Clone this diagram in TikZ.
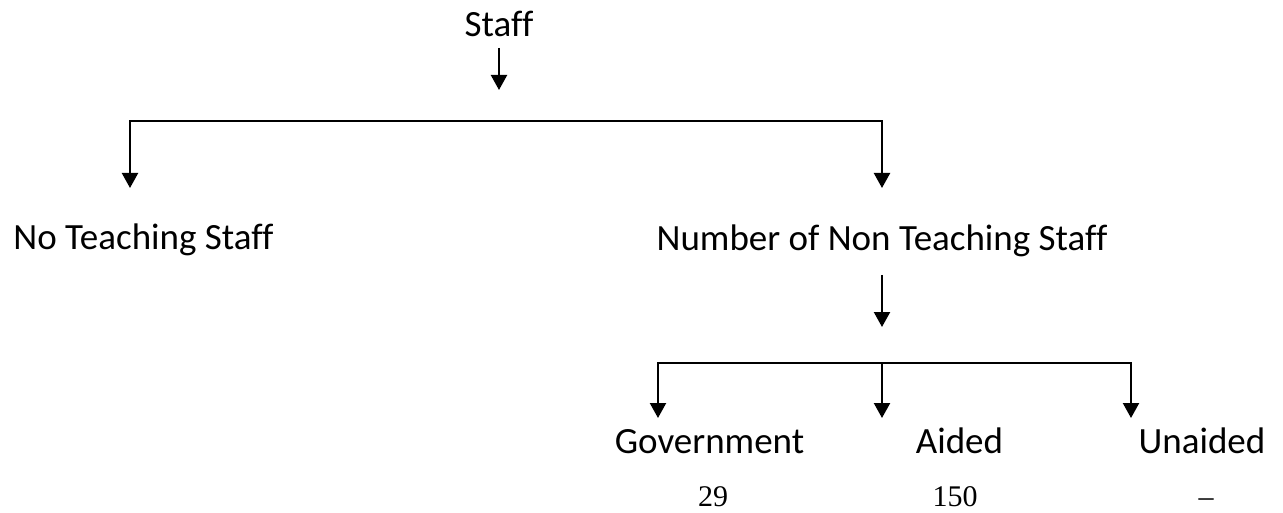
\documentclass[tikz,border=0pt]{standalone}
\usepackage{fontspec}
\setmainfont{Carlito}[Ligatures=CommonOff]
\newfontfamily\numfont{Liberation Serif}
\usetikzlibrary{arrows.meta}

\begin{document}
\begin{tikzpicture}[x=1pt,y=-1pt,
    lbl/.style={anchor=base,inner sep=0pt,font=\fontsize{37}{44}\selectfont},
    num/.style={anchor=base,inner sep=0pt,font=\numfont\fontsize{30}{36}\selectfont},
    down/.style={line width=2.2pt,-{Triangle[length=15pt,width=16pt]}},
    split/.style={line width=2.2pt,{Triangle[length=15pt,width=16pt]}-{Triangle[length=15pt,width=16pt]}}]
    \useasboundingbox (0,0) rectangle (1283,513);
    % labels
    \node[lbl] (staff) at (499,37) {Staff};
    \node[lbl] (noteach) at (143.5,250) {No Teaching Staff};
    \node[lbl] (nonteach) at (882,251) {Number of Non Teaching Staff};
    \node[lbl] (govt) at (709.5,453) {Government};
    \node[lbl] (aided) at (959.5,453) {Aided};
    \node[lbl] (unaided) at (1202,453) {Unaided};
    \node[num] (govtnum) at (713,506) {29};
    \node[num] (aidednum) at (955,506) {150};
    \node[num] (unaidednum) at (1206,506) {–};
    % branch points
    \coordinate (stafftip) at (499,90);
    \coordinate (topL) at (130,121);
    \coordinate (topR) at (882,121);
    \coordinate (midtip) at (882,327);
    \coordinate (lowL) at (658,363);
    \coordinate (lowM) at (882,363);
    \coordinate (lowR) at (1131,363);
    % arrows
    \draw[down] ([yshift=-11pt]staff.base) -- (stafftip);
    \draw[split] ([yshift=-67pt]topL) -- (topL) -- (topR) -- ([yshift=-67pt]topR);
    \draw[down] ([yshift=-24pt]nonteach.base) -- (midtip);
    \draw[split] ([yshift=-55pt]lowL) -- (lowL) -- (lowR) -- ([yshift=-55pt]lowR);
    \draw[down] (lowM) -- ++(0,55);
\end{tikzpicture}
\end{document}
